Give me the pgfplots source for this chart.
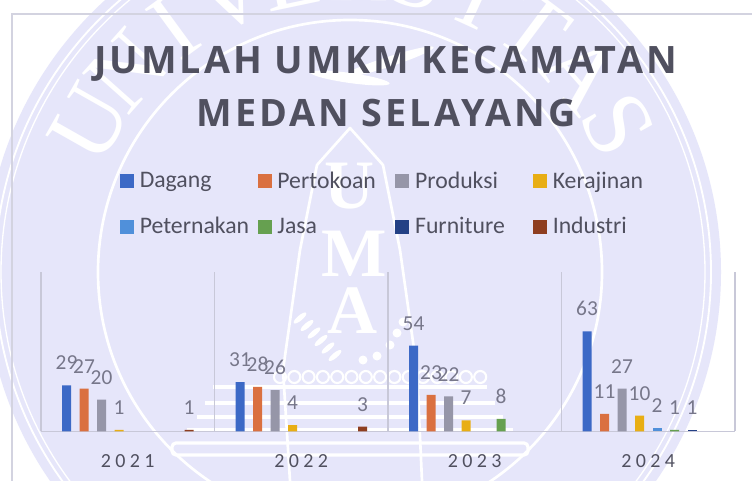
\documentclass[border=0pt]{standalone}
\usepackage{fontspec}
\setmainfont{Carlito}
\newfontfamily\titlef[LetterSpace=8]{Open Sans}
\newfontfamily\tickf[LetterSpace=22]{Carlito}
\newfontfamily\wmf{Liberation Serif}
\usepackage{pgfplots}
\pgfplotsset{compat=1.18}
\definecolor{bg}{HTML}{E6E6FA}
\definecolor{txt}{HTML}{50505F}
\definecolor{lab}{HTML}{77778A}
\definecolor{gridc}{HTML}{C8C8D8}
\definecolor{c1}{HTML}{3C69C6}
\definecolor{c2}{HTML}{DA7040}
\definecolor{c3}{HTML}{9696A8}
\definecolor{c4}{HTML}{E8AE14}
\definecolor{c5}{HTML}{5090DA}
\definecolor{c6}{HTML}{66A050}
\definecolor{c7}{HTML}{234085}
\definecolor{c8}{HTML}{8E3E20}
\begin{document}
\begin{tikzpicture}
\begin{scope}[x=0.75pt,y=-0.75pt]
\useasboundingbox (0,0) rectangle (752,481);
\begin{scope}
\clip (0,0) rectangle (752,481);
\fill[white] (0,0) rectangle (752,481);
\fill[bg] (353,272) circle (368);
\draw[white,line width=1.4pt] (353,272) circle (358);
\draw[white,line width=1pt] (353,272) circle (352);
\draw[white,line width=2pt] (350,272) circle (252);
% circular lettering
\foreach \l [count=\i from 0] in {U,N,I,V,E,R,S,I,T,A,S}{
  \pgfmathsetmacro\ang{150.5-\i*12.15}
  \node[text=white,font=\wmf\fontsize{72pt}{72pt}\selectfont,rotate=\ang-90] at ({353+303*cos(\ang)},{272-303*sin(\ang)}) {\l};
}
% wings
\fill[white] (350,78) ellipse [x radius=40,y radius=5,rotate=-8] ;
\fill[white] (388,62) ellipse [x radius=48,y radius=5,rotate=18] ;
% shield
\draw[white,line width=2pt,line join=round] (290,481)--(283,370)--(300,250)--(317,165)--(350,128)--(383,165)--(400,250)--(417,370)--(422,481);
% letters
\node[text=white,font=\wmf\bfseries\fontsize{52pt}{52pt}\selectfont] at (350,186) {U};
\node[text=white,font=\wmf\bfseries\fontsize{52pt}{52pt}\selectfont] at (354,254) {M};
\node[text=white,font=\wmf\bfseries\fontsize{52pt}{52pt}\selectfont] at (353,311) {A};
% laurel
\foreach \k in {0,...,5}{
  \fill[white] ({300+\k*7},{318+\k*7.5}) ellipse [x radius=8,y radius=2.6,rotate=40];
}
\foreach \xx/\yy in {363/360,377/356,390/345,397/333,403/322}{
  \fill[white] (\xx,\yy) circle (4.5);
}
% beads
\foreach \k in {0,...,14}{
  \draw[white,line width=1.6pt] ({280+\k*14.3},377) circle (6);
}
% stairs
\foreach \yy/\hw in {387/137,403/145,417/153,430/163}{
  \draw[white,line width=2.4pt] ({350-\hw},\yy)--({350+\hw},\yy);
}
\draw[white,line width=2.4pt,rounded corners=3pt] (172,443) rectangle (528,455);
% frame
\draw[gridc!80!white,line width=1.1pt] (12,481)--(12,14)--(752,14);
\end{scope}
% title
\node[text=txt,font=\titlef\bfseries\fontsize{28.3pt}{28.3pt}\selectfont,anchor=base] at (385.5,74) {JUMLAH UMKM KECAMATAN};
\node[text=txt,font=\titlef\bfseries\fontsize{28.3pt}{28.3pt}\selectfont,anchor=base] at (386,126.5) {MEDAN SELAYANG};
\end{scope}
\begin{axis}[
  at={(30.75pt,-323.6pt)},anchor=south west,scale only axis,
  width=520.5pt,height=119.25pt,
  xmin=-0.5,xmax=3.5,ymin=0,ymax=100,
  ybar=6.375pt,bar width=6.75pt,
  clip=false,
  axis x line=bottom,axis y line=none,
  x axis line style={draw=gridc,line width=1.1pt,-},
  xtick={0,1,2,3},xticklabels={2021,2022,2023,2024},
  minor xtick={-0.5,0.5,1.5,2.5,3.5},
  xminorgrids=true,
  minor grid style={draw=gridc,line width=0.9pt},
  major tick length=0pt,minor tick length=0pt,
  ytick=\empty,
  xticklabel style={font=\tickf\fontsize{15pt}{15pt}\selectfont,text=txt,yshift=-13.5pt},
  /pgf/number format/assume math mode=true,
  nodes near coords,
  nodes near coords style={font=\fontsize{16pt}{16pt}\selectfont,text=lab,anchor=south,yshift=8pt},
  legend columns=4,
  legend cell align=left,
  legend style={draw=none,fill=none,at={(axis description cs:0.114,1.65)},anchor=north west,
    font=\fontsize{17.8pt}{17.8pt}\selectfont,text=txt,row sep=16.25pt,inner sep=0pt,outer sep=0pt,
    /tikz/every odd column/.append style={column sep=2.25pt},
    /tikz/every even column/.append style={column sep=4.5pt}},
  legend image code/.code={\fill[#1] (0pt,-5.25pt) rectangle (10.5pt,5.25pt);},
]
\addplot[fill=c1,draw=none] coordinates {(0,29)(1,31)(2,54)(3,63)};
\addplot[fill=c2,draw=none] coordinates {(0,27)(1,28)(2,23)(3,11)};
\addplot[fill=c3,draw=none] coordinates {(0,20)(1,26)(2,22)(3,27)};
\addplot[fill=c4,draw=none] coordinates {(0,1)(1,4)(2,7)(3,10)};
\addplot[fill=c5,draw=none] coordinates {(3,2)};
\addplot[fill=c6,draw=none] coordinates {(2,8)(3,1)};
\addplot[fill=c7,draw=none] coordinates {(3,1)};
\addplot[fill=c8,draw=none] coordinates {(0,1)(1,3)};
\addlegendentry{\makebox[82pt][l]{Dagang}}
\addlegendentry{\makebox[82pt][l]{Pertokoan}}
\addlegendentry{\makebox[82pt][l]{Produksi}}
\addlegendentry{\makebox[82pt][l]{Kerajinan}}
\addlegendentry{\makebox[82pt][l]{Peternakan}}
\addlegendentry{\makebox[82pt][l]{Jasa}}
\addlegendentry{\makebox[82pt][l]{Furniture}}
\addlegendentry{\makebox[82pt][l]{Industri}}
\end{axis}
\end{tikzpicture}
\end{document}
